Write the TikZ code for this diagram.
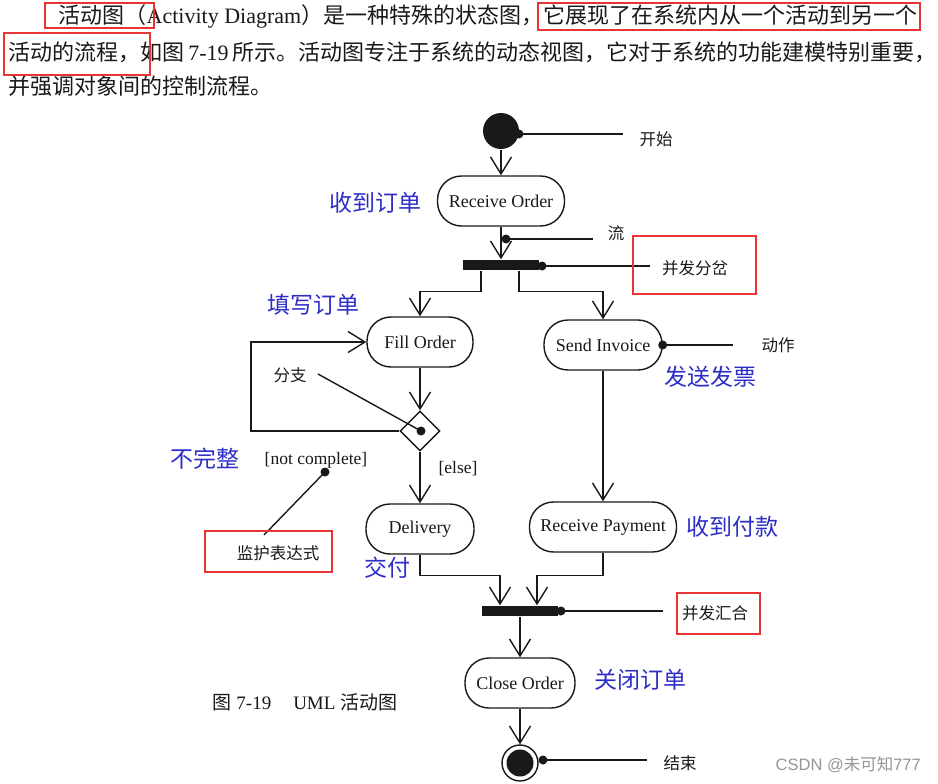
\documentclass[tikz,border=0pt]{standalone}
\usepackage{fontspec}
\setmainfont{Liberation Serif}
\newfontfamily\cjk{Noto Sans CJK SC}
\newfontfamily\wmsans{Liberation Sans}
\usetikzlibrary{arrows.meta,shapes.geometric}
\definecolor{rbox}{RGB}{232,52,52}
\definecolor{lblue}{RGB}{45,45,200}
\definecolor{ink}{RGB}{25,25,25}
\definecolor{wm}{RGB}{150,150,150}
\begin{document}
\begin{tikzpicture}[x=1pt,y=-1pt,
  line width=1.4pt,
  flow/.style={draw=ink, line width=1.4pt, -{Straight Barb[length=17pt,width=21pt,line width=1.4pt]}},
  ln/.style={draw=ink, line width=1.4pt},
  act/.style={draw=ink, line width=1.4pt, rounded corners=24pt, inner sep=0pt, minimum height=50pt, font=\fontsize{18}{18}\selectfont, text=ink},
  syncbar/.style={fill=ink, draw=none, minimum height=10pt, inner sep=0pt},
  knob/.style={circle, fill=ink, minimum size=9pt, inner sep=0pt},
  ann/.style={font=\cjk\fontsize{16.5}{16.5}\selectfont, text=ink, inner sep=0pt},
  guard/.style={font=\fontsize{17.5}{17.5}\selectfont, text=ink, inner sep=0pt},
  cnlabel/.style={font=\cjk\fontsize{23}{23}\selectfont, text=lblue, inner sep=0pt},
  redbox/.style={draw=rbox, line width=2.6pt},
  para/.style={anchor=west, font=\fontsize{22}{22}\selectfont, text=ink, inner sep=0pt},
]
\useasboundingbox (0,0) rectangle (938,784);
\fill[white] (0,0) rectangle (938,784);

% paragraph
\node[para] (p1) at (58,16) {{\cjk 活动图（}Activity Diagram{\cjk ）是一种特殊的状态图，它展现了在系统内从一个活动到另一个}};
\node[para] (p2) at (8,52) {{\cjk 活动的流程，如图}\,7-19\,{\cjk 所示。活动图专注于系统的动态视图，它对于系统的功能建模特别重要，}};
\node[para] (p3) at (8,86) {{\cjk 并强调对象间的控制流程。}};
\draw[redbox] (45,3) rectangle (154,28);
\draw[redbox] (538,3) rectangle (920,30);
\draw[redbox] (4,33) rectangle (150,75);

% start
\node[circle, fill=ink, minimum size=36pt, inner sep=0pt] (start) at (501,131) {};
\node[knob] (k1) at (519,134) {};
\coordinate (e1) at (623,134);
\draw[ln] (k1.center) -- (e1);
\node[ann] (t1) at (656,139) {开始};

% receive order
\node[act, minimum width=127pt] (ro) at (501,201) {Receive Order};
\node[cnlabel] (b1) at (375,203) {收到订单};
\draw[flow] (start) -- (ro);

% fork
\node[syncbar, minimum width=76pt] (fork) at (501,265) {};
\draw[flow] (ro) -- (fork);
\node[knob] (k2) at (506,239) {};
\coordinate (e2) at (593,239);
\draw[ln] (k2.center) -- (e2);
\node[ann] (t2) at (616,233) {流};
\node[knob] (k3) at (542,266) {};
\coordinate (e3) at (650,266);
\draw[ln] (k3.center) -- (e3);
\node[ann] (t3) at (695,268) {并发分岔};
\draw[redbox] (633,236) rectangle (756,294);

% fill order / send invoice
\node[act, minimum width=106pt] (fill) at (420,342) {Fill Order};
\node[act, minimum width=118pt] (si) at (603,345) {Send Invoice};
\node[cnlabel] (b2) at (313,305) {填写订单};
\node[cnlabel] (b3) at (710,377) {发送发票};
\draw[flow] ([xshift=-20pt]fork.south) -- ++(0,21) -| (fill.north);
\draw[flow] ([xshift=18pt]fork.south) -- ++(0,21) -| (si.north);
\node[knob] (k4) at (si.east) {};
\coordinate (e4) at (733,345);
\draw[ln] (k4.center) -- (e4);
\node[ann] (t4) at (778,345) {动作};

% decision
\node[diamond, draw=ink, line width=1.4pt, minimum width=40pt, minimum height=40pt, inner sep=0pt] (dec) at (420,431) {};
\draw[flow] (fill) -- (dec);
\coordinate (lpb) at (251,431);
\draw[flow] (dec.west) -- (lpb) |- (fill.west);
\node[knob] (k5) at (421,431) {};
\coordinate (e5) at (318,374);
\draw[ln] (k5.center) -- (e5);
\node[ann] (t5) at (290,375) {分支};
\node[guard] (g1) at (458,469) {[else]};
\node[guard] (g2) at (316,460) {[not complete]};
\node[cnlabel] (b4) at (205,459) {不完整};
\node[knob] (k6) at (325,472) {};
\coordinate (e6) at (264,535);
\draw[ln] (k6.center) -- (e6);
\node[ann] (t6) at (278,553) {监护表达式};
\draw[redbox] (205,531) rectangle (332,572);

% delivery / receive payment
\node[act, minimum width=108pt] (del) at (420,529) {Delivery};
\node[act, minimum width=147pt] (rp) at (603,527) {Receive Payment};
\draw[flow] (dec) -- (del);
\draw[flow] (si) -- (rp);
\node[cnlabel] (b5) at (387,568) {交付};
\node[cnlabel] (b6) at (732,527) {收到付款};

% join
\node[syncbar, minimum width=76pt] (join) at (520,611) {};
\draw[flow] (del.south) -- ++(0,21) -| ([xshift=-20pt]join.north);
\draw[flow] (rp.south) -- ++(0,23) -| ([xshift=17pt]join.north);
\node[knob] (k7) at (561,611) {};
\coordinate (e7) at (663,611);
\draw[ln] (k7.center) -- (e7);
\node[ann] (t7) at (715,613) {并发汇合};
\draw[redbox] (677,593) rectangle (760,634);

% close order
\node[act, minimum width=110pt] (co) at (520,683) {Close Order};
\node[cnlabel] (b7) at (640,680) {关闭订单};
\draw[flow] (join) -- (co);

% end
\node[circle, draw=ink, line width=1.4pt, minimum size=36pt, inner sep=0pt] (end) at (520,763) {};
\node[circle, fill=ink, minimum size=27pt, inner sep=0pt] (endin) at (end) {};
\draw[flow] (co) -- (end);
\node[knob] (k8) at (543,760) {};
\coordinate (e8) at (647,760);
\draw[ln] (k8.center) -- (e8);
\node[ann] (t8) at (680,763) {结束};

% caption
\node[anchor=west, inner sep=0pt, text=ink, font=\fontsize{19}{19}\selectfont] (cap) at (212,702) {{\cjk 图}\ 7-19\hspace{22pt}UML\ {\cjk 活动图}};

% watermark
\node[anchor=west, inner sep=0pt, text=wm, font=\wmsans\fontsize{16.5}{16.5}\selectfont] (wmk) at (775,765) {CSDN @{\cjk 未可知}777};
\end{tikzpicture}
\end{document}
